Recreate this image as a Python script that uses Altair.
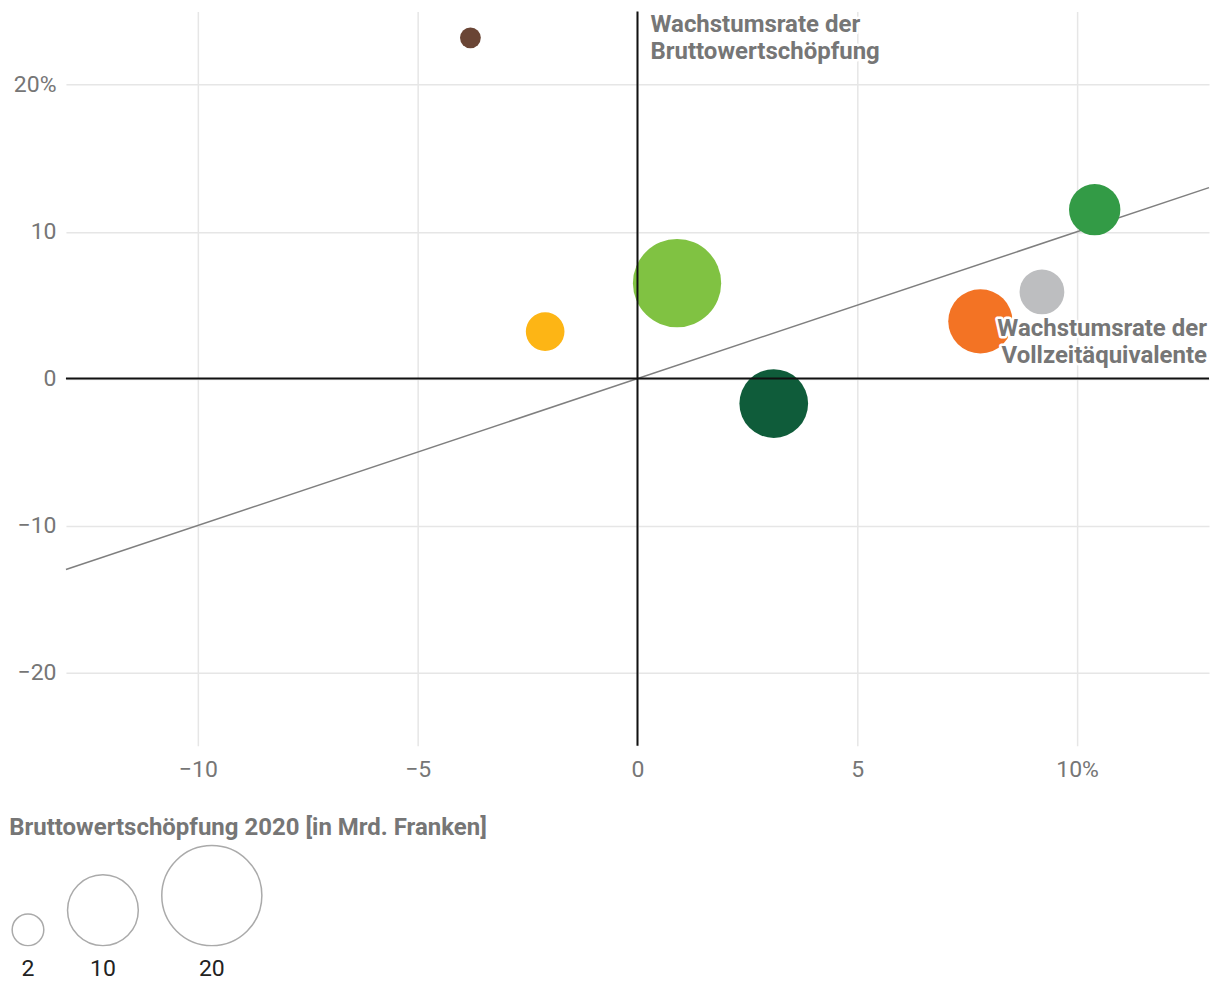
import altair as alt
import pandas as pd

# ---- data ----
sectors = ["Branche 1", "Branche 2", "Branche 3", "Branche 4", "Branche 5", "Branche 6", "Branche 7"]
growth_fte = [-3.8, -2.1, 0.9, 3.1, 7.8, 9.2, 10.4]      # x: Wachstumsrate der Vollzeitäquivalente (%)
growth_gva = [23.2, 3.2, 6.5, -1.7, 3.9, 5.9, 11.5]      # y: Wachstumsrate der Bruttowertschöpfung (%)
gva_2020 = [1.1, 3.8, 19.8, 12.0, 10.5, 5.1, 6.7]        # Bruttowertschöpfung 2020 [Mrd. Franken]
sector_colors = ["#6a4535", "#fdb515", "#80c242", "#0f5c3a", "#f37324", "#bdbec0", "#339b46"]

diag_x = [-13, 13]
diag_y = [-13, 13]
zero = [0]

x_ticks = [-10, -5, 0, 5, 10]
y_ticks = [-20, -10, 0, 10, 20]

annot_text = ["Wachstumsrate der\nBruttowertschöpfung", "Wachstumsrate der\nVollzeitäquivalente"]
annot_x = [0, 13]
annot_y = [25, 2.9]
annot_align = ["left", "right"]

legend_values = [2, 10, 20]
legend_labels = ["2", "10", "20"]
legend_title = "Bruttowertschöpfung 2020 [in Mrd. Franken]"

FONT = "Roboto"
GRAY_TXT = "#767676"
AX_FS = 23
TXT_FS = 24
size_scale = alt.Scale(domain=[0, 20], range=[0, 7880])

df = pd.DataFrame({"sector": sectors, "x": growth_fte, "y": growth_gva, "v": gva_2020})
diag = pd.DataFrame({"x": diag_x, "y": diag_y})
zdf = pd.DataFrame({"z": zero})

xscale = alt.Scale(domain=[-13, 13], nice=False, zero=False)
yscale = alt.Scale(domain=[-25, 25], nice=False, zero=False)

xaxis = alt.Axis(values=x_ticks, title=None, grid=True, gridColor="#e6e6e6", gridWidth=1.5,
                 domain=False, ticks=False, labelPadding=13, labelFontSize=AX_FS, labelColor=GRAY_TXT,
                 labelFont=FONT, labelExpr="datum.value == 10 ? '10%' : datum.label")
yaxis = alt.Axis(values=y_ticks, title=None, grid=True, gridColor="#e6e6e6", gridWidth=1.5,
                 domain=False, ticks=False, labelPadding=10, labelFontSize=AX_FS, labelColor=GRAY_TXT,
                 labelFont=FONT, minExtent=58, maxExtent=58,
                 labelExpr="datum.value == 20 ? '20%' : datum.label")

base_axes = alt.Chart(diag).mark_line(color="#7f7f7f", strokeWidth=1.5).encode(
    x=alt.X("x:Q", scale=xscale, axis=xaxis),
    y=alt.Y("y:Q", scale=yscale, axis=yaxis),
)

bubbles = alt.Chart(df).mark_circle(opacity=1).encode(
    x=alt.X("x:Q", scale=xscale),
    y=alt.Y("y:Q", scale=yscale),
    size=alt.Size("v:Q", scale=size_scale, legend=None),
    color=alt.Color("sector:N", scale=alt.Scale(domain=sectors, range=sector_colors), legend=None),
)

vline = alt.Chart(zdf).mark_rule(color="#111111", strokeWidth=2).encode(x=alt.X("z:Q", scale=xscale))
hline = alt.Chart(zdf).mark_rule(color="#111111", strokeWidth=2).encode(y=alt.Y("z:Q", scale=yscale))

ann = pd.DataFrame({"t": annot_text, "x": annot_x, "y": annot_y, "a": annot_align})

def annot(i):
    d = ann.iloc[[i]]
    common = dict(font=FONT, fontSize=TXT_FS, fontWeight="bold", lineBreak="\n", lineHeight=27,
                  align=annot_align[i])
    if i == 0:
        common.update(baseline="top", dx=13, dy=2)
    else:
        common.update(baseline="alphabetic", dx=-2)
    enc = dict(x=alt.X("x:Q", scale=xscale), y=alt.Y("y:Q", scale=yscale), text="t:N")
    halo = alt.Chart(d).mark_text(color="white", stroke="white", strokeWidth=5,
                                  strokeJoin="round", **common).encode(**enc)
    txt = alt.Chart(d).mark_text(color=GRAY_TXT, **common).encode(**enc)
    return halo + txt

main = alt.layer(base_axes, bubbles, vline, hline, annot(0), annot(1)).properties(width=1144, height=735)

# ---- size legend ----
k = 1.1283792
bottom_circle = f"M {-k},{-k} A {k},{k} 0 1,1 {k},{-k} A {k},{k} 0 1,1 {-k},{-k} Z"
ldf = pd.DataFrame({"v": legend_values, "lab": legend_labels})
lx = alt.X("v:Q", scale=alt.Scale(type="linear", domain=legend_values, range=[-38, 37, 146], nice=False, zero=False),
           axis=None)

leg_sym = alt.Chart(ldf).mark_point(shape=bottom_circle, filled=False, color="#aaaaaa",
                                    strokeWidth=1.5, opacity=1).encode(
    x=lx, y=alt.value(104), size=alt.Size("v:Q", scale=size_scale, legend=None))
leg_txt = alt.Chart(ldf).mark_text(font=FONT, fontSize=AX_FS, color="#222222", baseline="alphabetic").encode(
    x=lx, y=alt.value(134), text="lab:N")

legend = alt.layer(leg_sym, leg_txt).properties(
    width=300, height=138,
    title=alt.TitleParams(legend_title, anchor="start", font=FONT, fontSize=TXT_FS, fontWeight="bold",
                          color=GRAY_TXT, offset=2),
)

chart = alt.vconcat(main, legend, spacing=34).properties(
    padding={"left": 0, "top": 2, "right": 0, "bottom": 0}
).configure_view(stroke=None).resolve_scale(size="shared")

chart.save("out.html", embed_options={"renderer": "svg", "actions": False})
